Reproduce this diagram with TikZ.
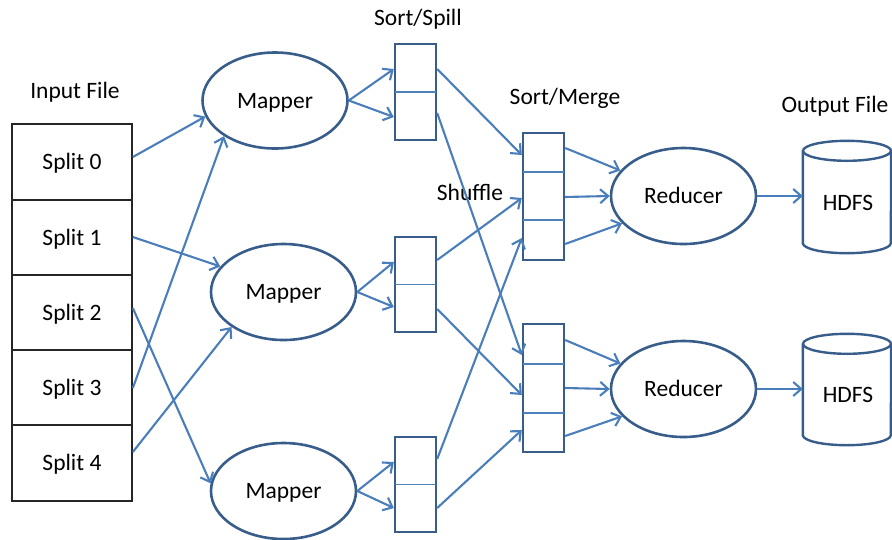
\documentclass[tikz,border=0pt]{standalone}
\usepackage{fontspec}
\setmainfont{Carlito}
\usetikzlibrary{arrows.meta,calc,shapes.geometric}

\definecolor{outl}{HTML}{385D8A}
\definecolor{flow}{HTML}{4A7EBB}
\definecolor{divl}{HTML}{4F81BD}

\tikzset{
  lbl/.style={font=\fontsize{23.5}{28}\selectfont, inner sep=0pt, text height=15pt, text depth=0pt},
  splitbox/.style={draw=black!85, line width=1.7pt, minimum width=120pt, minimum height=75.5pt, inner sep=0pt, lbl},
  proc/.style={ellipse, draw=outl, line width=2.6pt, minimum width=145pt, minimum height=96pt, inner sep=0pt, lbl},
  buf/.style={draw=outl, line width=2.4pt, minimum width=41pt, inner sep=0pt},
  divider/.style={draw=divl, line width=1.9pt},
  flowline/.style={draw=flow, line width=2.1pt, -{Straight Barb[length=8pt,width=14pt]}},
  disk/.style={draw=outl, line width=2.4pt},
  hole/.style={inner sep=0pt, minimum width=88pt},
}

\begin{document}
\begin{tikzpicture}[x=1pt,y=-1pt]
\useasboundingbox (0,0) rectangle (892,539);

% input splits
\node[lbl] (inlbl) at (75,91) {Input File};
\node[splitbox] (sp0) at (72,162) {Split 0};
\node[splitbox] (sp1) at (72,237.5) {Split 1};
\node[splitbox] (sp2) at (72,312.5) {Split 2};
\node[splitbox] (sp3) at (72,387.5) {Split 3};
\node[splitbox] (sp4) at (72,463) {Split 4};

% mappers
\node[proc] (m1) at (275,100.5) {Mapper};
\node[proc] (m2) at (283.5,292) {Mapper};
\node[proc] (m3) at (283.5,491) {Mapper};

% sort/spill buffers
\node[lbl] (sslbl) at (418,18) {Sort/Spill};
\node[buf, minimum height=96pt] (ss1) at (415.5,92) {};
\node[buf, minimum height=95pt] (ss2) at (415.5,284.5) {};
\node[buf, minimum height=95pt] (ss3) at (415.5,484.5) {};
\foreach \b in {ss1,ss2,ss3}
  \draw[divider] ([xshift=1.2pt]\b.west) -- ([xshift=-1.2pt]\b.east);

% sort/merge buffers
\node[lbl] (smlbl) at (565,97) {Sort/Merge};
\node[lbl] (shlbl) at (470,193) {Shuffle};
\node[buf, minimum height=127pt] (sm1) at (543.5,196.5) {};
\node[buf, minimum height=128pt] (sm2) at (543.5,388) {};
\draw[divider] ($(sm1.west)+(1.2,-24.5)$) -- ($(sm1.east)+(-1.2,-24.5)$);
\draw[divider] ($(sm1.west)+(1.2,23.5)$) -- ($(sm1.east)+(-1.2,23.5)$);
\draw[divider] ($(sm2.west)+(1.2,-24)$) -- ($(sm2.east)+(-1.2,-24)$);
\draw[divider] ($(sm2.west)+(1.2,25)$) -- ($(sm2.east)+(-1.2,25)$);

% reducers
\node[proc] (r1) at (683.5,196) {Reducer};
\node[proc] (r2) at (683.5,389) {Reducer};

% output storage: cylinders with their labels
\node[lbl] (outlbl) at (835,105) {Output File};
\node[hole, minimum height=112pt] (h1) at (847,197) {};
\node[hole, minimum height=111pt] (h2) at (847,389.5) {};
\foreach \h in {h1,h2} {
  \draw[disk] ($(\h.north west)+(0,10)$) -- ($(\h.south west)+(0,-10)$)
     arc[start angle=180, end angle=360, x radius=44pt, y radius=10pt]
     -- ($(\h.north east)+(0,10)$);
  \draw[disk] ($(\h.north)+(0,10)$) ellipse[x radius=44pt, y radius=10pt];
}
\node[lbl] (h1t) at (848,203) {HDFS};
\node[lbl] (h2t) at (848,395) {HDFS};

% splits to mappers
\draw[flowline] ($(sp0.east)+(0,-5)$) -- (m1.193);
\draw[flowline] ($(sp1.east)+(0,-0.5)$) -- (m2.158);
\draw[flowline] ($(sp2.east)+(0,-4.5)$) -- (m3.174);
\draw[flowline] ($(sp3.east)+(0,0.5)$) -- (m1.215);
\draw[flowline] ($(sp4.east)+(0,-11)$) -- (m2.214);

% mappers to sort/spill
\draw[flowline] (m1.east) -- ($(ss1.west)+(0,-23)$);
\draw[flowline] (m1.east) -- ($(ss1.west)+(0,25)$);
\draw[flowline] (m2.east) -- ($(ss2.west)+(0,-22.5)$);
\draw[flowline] (m2.east) -- ($(ss2.west)+(0,22.5)$);
\draw[flowline] (m3.east) -- ($(ss3.west)+(0,-22.5)$);
\draw[flowline] (m3.east) -- ($(ss3.west)+(0,23.5)$);

% shuffle
\draw[flowline] ($(ss1.east)+(0,-23)$) -- ($(sm1.west)+(0,-41.5)$);
\draw[flowline] ($(ss1.east)+(0,21)$) -- ($(sm2.west)+(0,-33)$);
\draw[flowline] ($(ss2.east)+(0,-24.5)$) -- ($(sm1.west)+(0,1.5)$);
\draw[flowline] ($(ss2.east)+(0,24.5)$) -- ($(sm2.west)+(0,7)$);
\draw[flowline] ($(ss3.east)+(0,-25.5)$) -- ($(sm1.west)+(0,41.5)$);
\draw[flowline] ($(ss3.east)+(0,23.5)$) -- ($(sm2.west)+(0,42)$);

% sort/merge to reducers
\draw[flowline] ($(sm1.east)+(0,-48.5)$) -- (r1.158);
\draw[flowline] ($(sm1.east)+(0,0.5)$) -- (r1.west);
\draw[flowline] ($(sm1.east)+(0,47.5)$) -- (r1.204);
\draw[flowline] ($(sm2.east)+(0,-48)$) -- (r2.158);
\draw[flowline] (sm2.east) -- (r2.west);
\draw[flowline] ($(sm2.east)+(0,48)$) -- (r2.204);

% reducers to storage
\draw[flowline] (r1.east) -- (h1.west |- r1.east);
\draw[flowline] (r2.east) -- (h2.west |- r2.east);
\end{tikzpicture}
\end{document}
